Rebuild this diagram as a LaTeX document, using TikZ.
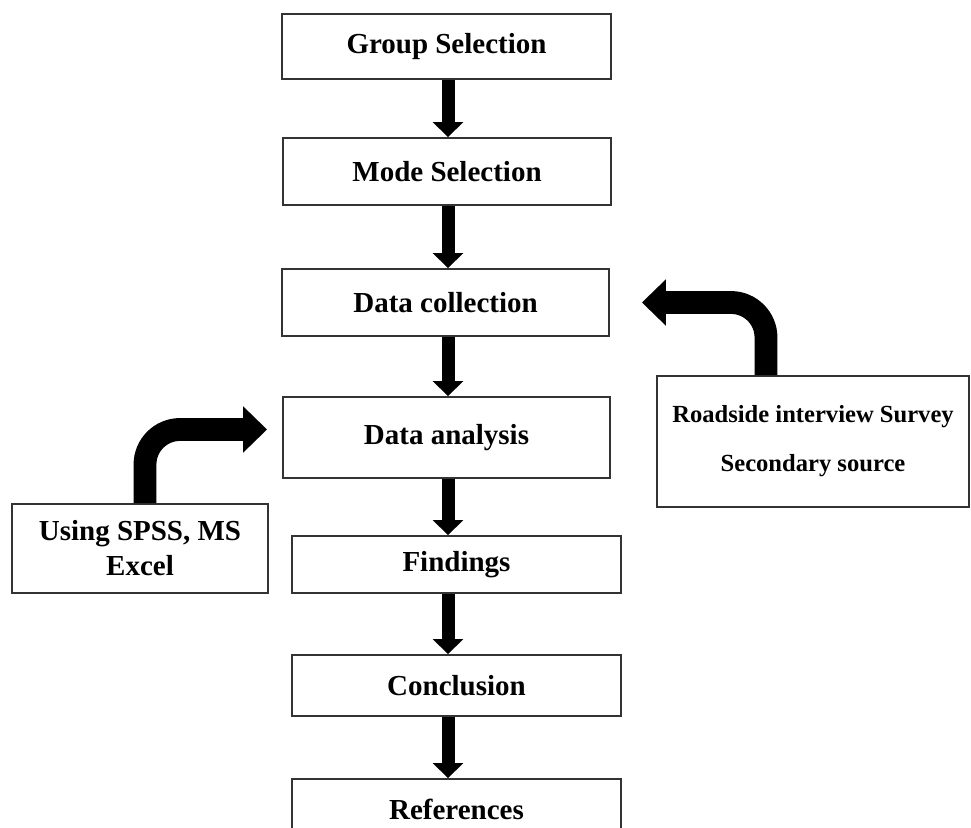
\documentclass[tikz,border=0pt]{standalone}
\usepackage{fontspec}
\setmainfont{Liberation Serif}
\usetikzlibrary{arrows.meta,calc,positioning}

\begin{document}
\begin{tikzpicture}[x=0.02cm,y=-0.02cm]
	\tikzset{stage/.style={draw=black!80,line width=1.1pt,fill=white,inner sep=0pt,align=center,font=\fontsize{16.5}{19.9}\selectfont\bfseries}}
	\tikzset{down/.style={line width=7.4pt,-{Triangle[width=0.6cm,length=0.3cm]}}}
	\tikzset{bent/.style={line width=13pt,rounded corners=0.7cm,-{Triangle[width=0.9cm,length=0.48cm]}}}
	\useasboundingbox (0,0) rectangle (971,828);
	\coordinate (spine) at (448,0);
	\coordinate (rdx) at (766,0);
	\coordinate (spx) at (145,0);
	\node[stage,minimum width=6.58cm,minimum height=1.3cm] (grp) at (446.5,46.5) {Group Selection};
	\node[stage,minimum width=6.56cm,minimum height=1.34cm] (mode) at (447,171.5) {Mode Selection};
	\node[stage,minimum width=6.54cm,minimum height=1.34cm] (coll) at (445.5,302.5) {Data collection};
	\node[stage,minimum width=6.54cm,minimum height=1.62cm] (ana) at (446.5,437.5) {Data analysis};
	\node[stage,minimum width=6.58cm,minimum height=1.14cm] (find) at (456.5,564.5) {Findings};
	\node[stage,minimum width=6.58cm,minimum height=1.22cm] (conc) at (456.5,685.5) {Conclusion};
	\node[stage,minimum width=6.58cm,minimum height=1.22cm] (refs) at (456.5,809.5) {References};
	\node[stage,minimum width=6.24cm,minimum height=2.62cm,font=\fontsize{14}{27.8}\selectfont\bfseries] (road) at (813,441.5) {Roadside interview Survey\\Secondary source};
	\node[stage,minimum width=5.12cm,minimum height=1.78cm] (spss) at (140,548.5) {Using SPSS, MS\\Excel};
	% main flow
	\draw[down] (grp.south -| spine) -- (mode.north -| spine);
	\draw[down] (mode.south -| spine) -- (coll.north -| spine);
	\draw[down] (coll.south -| spine) -- (ana.north -| spine);
	\draw[down] (ana.south -| spine) -- (find.north -| spine);
	\draw[down] (find.south -| spine) -- (conc.north -| spine);
	\draw[down] (conc.south -| spine) -- (refs.north -| spine);
	% side inputs
	\draw[bent,shorten >=0.64cm] (road.north -| rdx) |- (coll.east);
	\draw[bent,shorten >=0.3cm] (spss.north -| spx) |- ($(ana.west)+(0,-8)$);
\end{tikzpicture}
\end{document}
